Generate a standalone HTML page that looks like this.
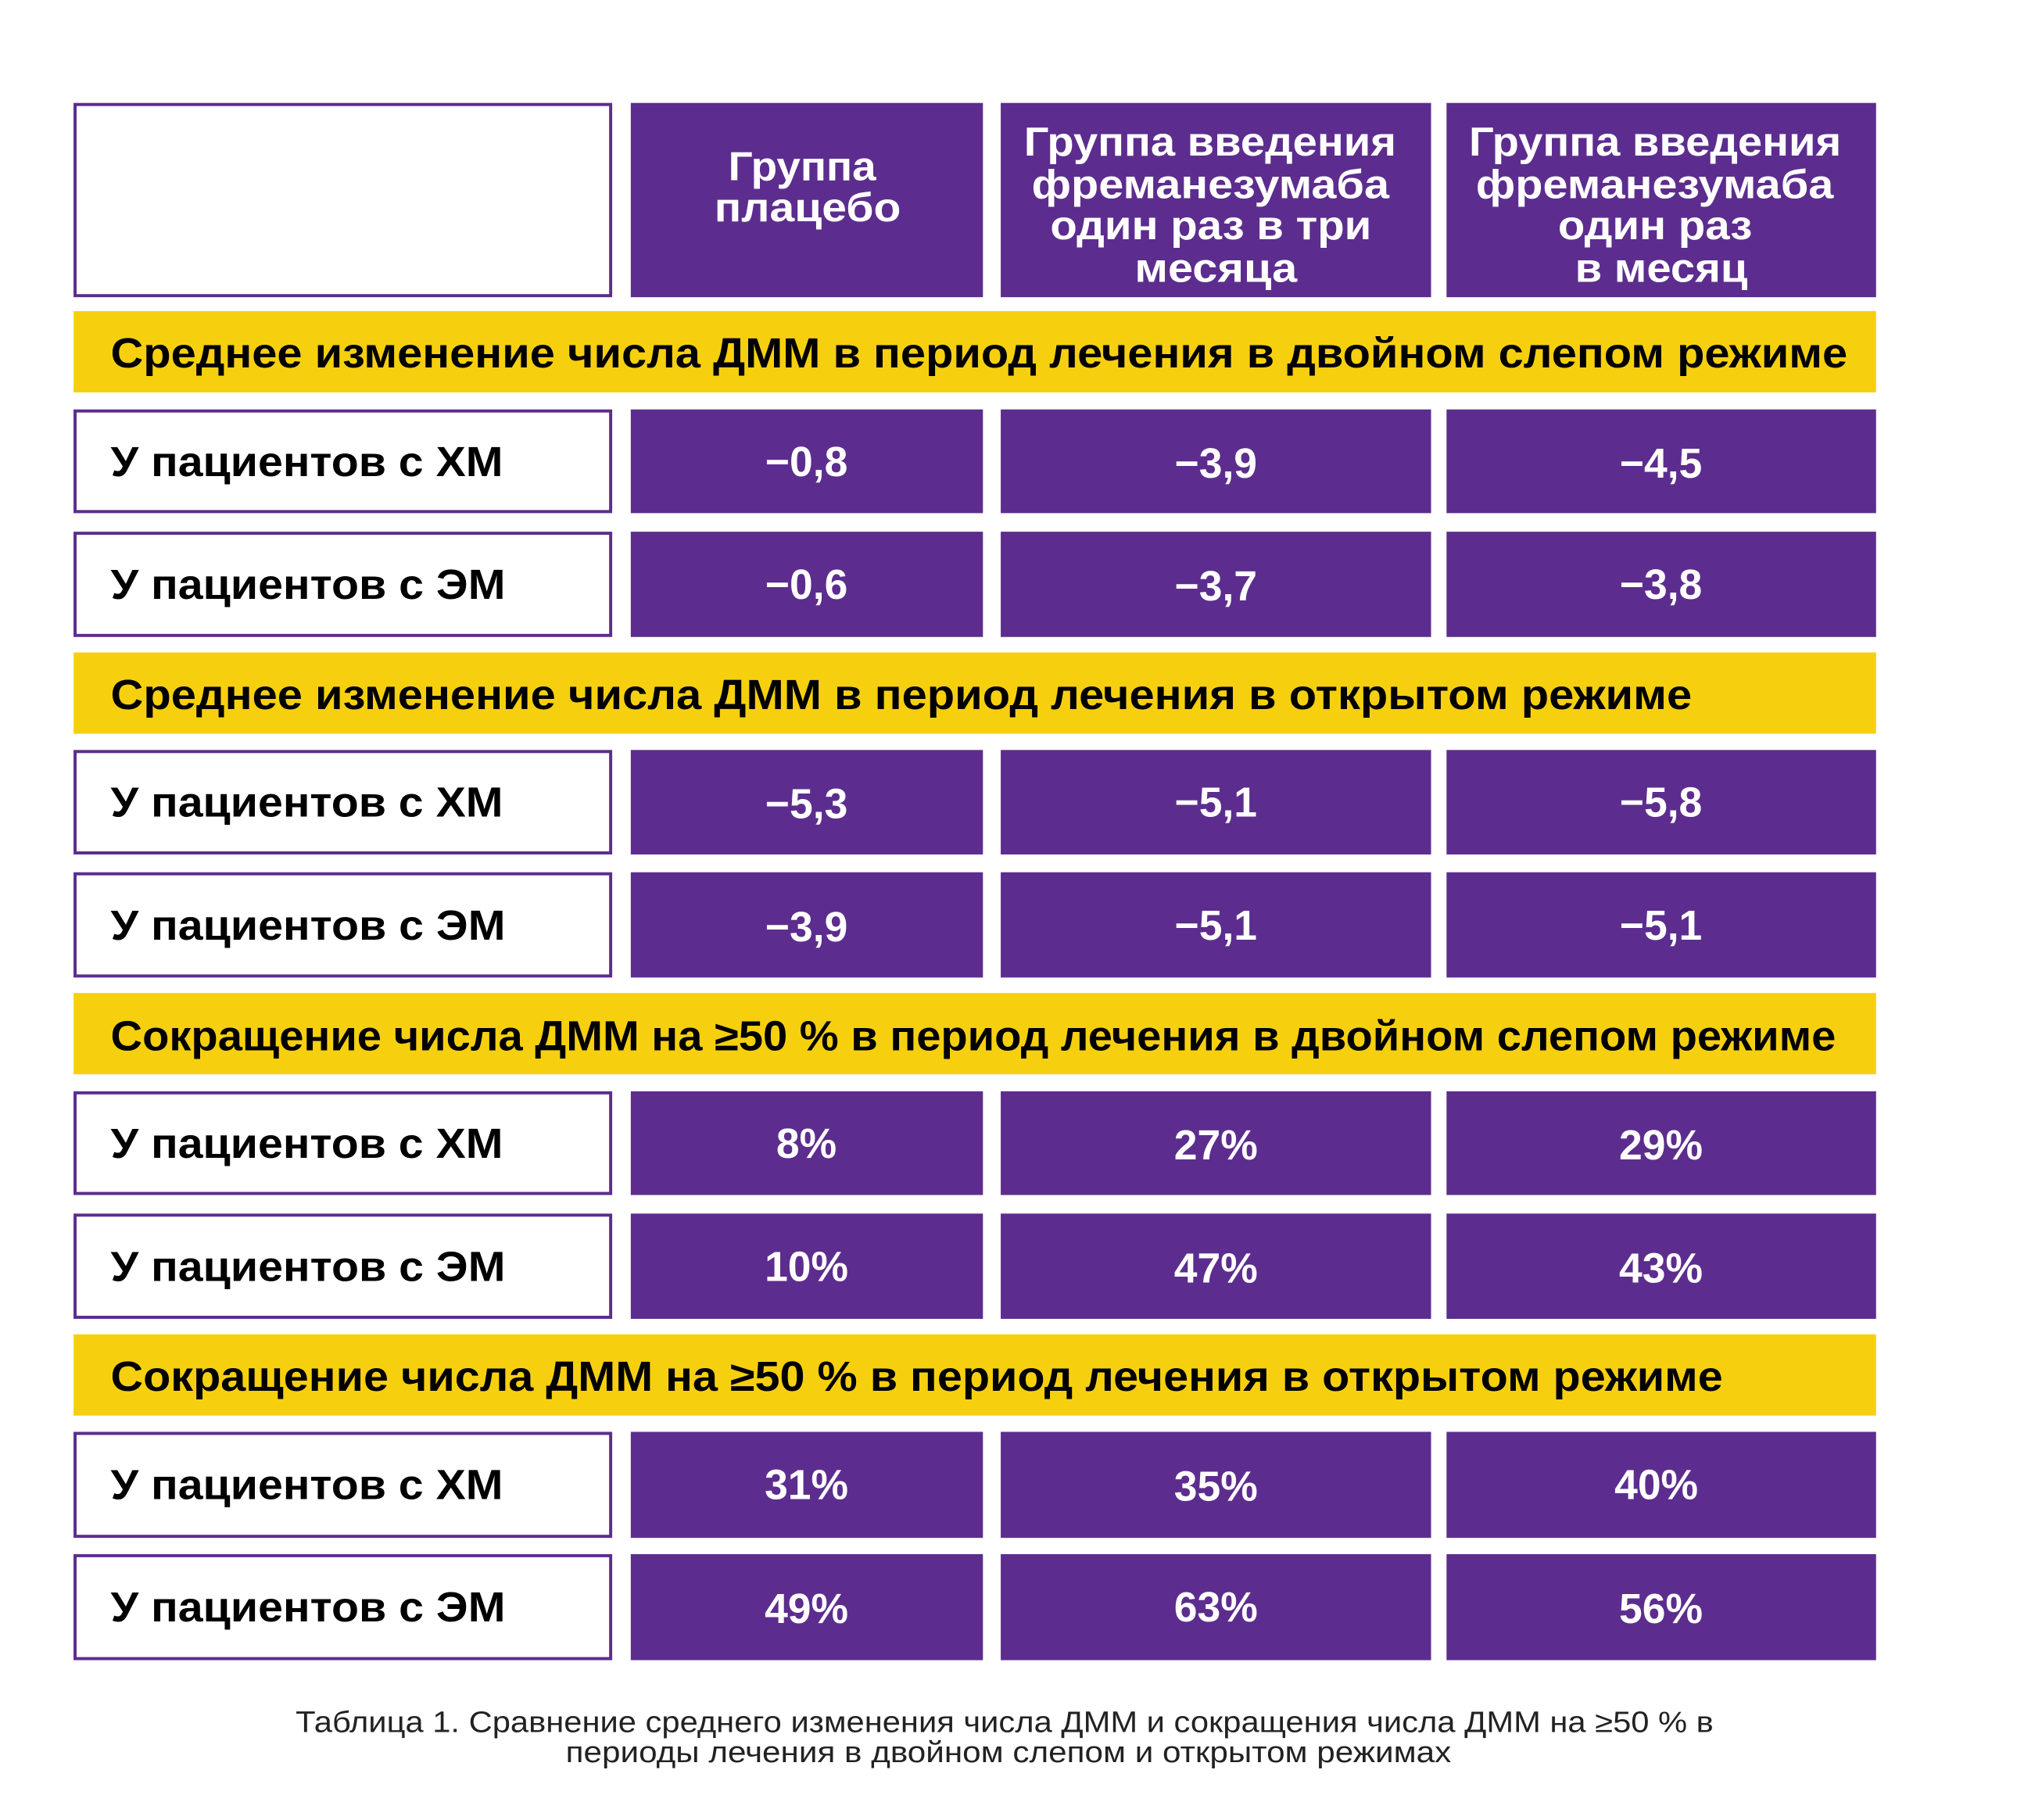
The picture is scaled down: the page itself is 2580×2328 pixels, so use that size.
<!DOCTYPE html>
<html><head><meta charset="utf-8"><style>
html,body{margin:0;padding:0;background:#fff;}
svg{display:block;}
text{font-family:"Liberation Sans",sans-serif;}
.b{font-weight:bold;}
.w{fill:#fff;}
</style></head><body>
<svg width="2580" height="2328" viewBox="0 0 2580 2328" xmlns="http://www.w3.org/2000/svg">
<rect width="2580" height="2328" fill="#fff"/>
<g transform="scale(0.99)">
<g fill="#5c2d8e">
<rect x="815" y="133" width="455" height="251"/>
<rect x="1293" y="133" width="556" height="251"/>
<rect x="1869" y="133" width="555" height="251"/>
</g>
<rect x="97" y="135" width="692" height="247" fill="none" stroke="#5c2d8e" stroke-width="4"/>
<g class="b w" font-size="52">
<text x="941" y="233" textLength="191" lengthAdjust="spacingAndGlyphs">Группа</text>
<text x="923" y="286" textLength="241" lengthAdjust="spacingAndGlyphs">плацебо</text>
<text x="1323" y="201" textLength="481" lengthAdjust="spacingAndGlyphs">Группа введения</text>
<text x="1333" y="256" textLength="462" lengthAdjust="spacingAndGlyphs">фреманезумаба</text>
<text x="1357" y="309" textLength="415" lengthAdjust="spacingAndGlyphs">один раз в три</text>
<text x="1466" y="364" textLength="210" lengthAdjust="spacingAndGlyphs">месяца</text>
<text x="1898" y="201" textLength="481" lengthAdjust="spacingAndGlyphs">Группа введения</text>
<text x="1907" y="256" textLength="462" lengthAdjust="spacingAndGlyphs">фреманезумаба</text>
<text x="2013" y="309" textLength="251" lengthAdjust="spacingAndGlyphs">один раз</text>
<text x="2035" y="364" textLength="223" lengthAdjust="spacingAndGlyphs">в месяц</text>
</g>
<g fill="#f6d00f">
<rect x="95" y="402" width="2329" height="105"/>
<rect x="95" y="843" width="2329" height="105"/>
<rect x="95" y="1283" width="2329" height="105"/>
<rect x="95" y="1724" width="2329" height="105"/>
</g>
<g class="b" font-size="54" fill="#000">
<text x="143" y="475" textLength="2244" lengthAdjust="spacingAndGlyphs">Среднее изменение числа ДММ в период лечения в двойном слепом режиме</text>
<text x="143" y="916" textLength="2043" lengthAdjust="spacingAndGlyphs">Среднее изменение числа ДММ в период лечения в открытом режиме</text>
<text x="143" y="1357" textLength="2229" lengthAdjust="spacingAndGlyphs">Сокращение числа ДММ на ≥50 % в период лечения в двойном слепом режиме</text>
<text x="143" y="1797" textLength="2083" lengthAdjust="spacingAndGlyphs">Сокращение числа ДММ на ≥50 % в период лечения в открытом режиме</text>
</g>
<g fill="#5c2d8e">
<rect x="815" y="529" width="455" height="134"/><rect x="1293" y="529" width="556" height="134"/><rect x="1869" y="529" width="555" height="134"/>
<rect x="815" y="687" width="455" height="136"/><rect x="1293" y="687" width="556" height="136"/><rect x="1869" y="687" width="555" height="136"/>
<rect x="815" y="969" width="455" height="135"/><rect x="1293" y="969" width="556" height="135"/><rect x="1869" y="969" width="555" height="135"/>
<rect x="815" y="1127" width="455" height="136"/><rect x="1293" y="1127" width="556" height="136"/><rect x="1869" y="1127" width="555" height="136"/>
<rect x="815" y="1410" width="455" height="134"/><rect x="1293" y="1410" width="556" height="134"/><rect x="1869" y="1410" width="555" height="134"/>
<rect x="815" y="1568" width="455" height="136"/><rect x="1293" y="1568" width="556" height="136"/><rect x="1869" y="1568" width="555" height="136"/>
<rect x="815" y="1850" width="455" height="137"/><rect x="1293" y="1850" width="556" height="137"/><rect x="1869" y="1850" width="555" height="137"/>
<rect x="815" y="2008" width="455" height="137"/><rect x="1293" y="2008" width="556" height="137"/><rect x="1869" y="2008" width="555" height="137"/>
</g>
<g fill="none" stroke="#5c2d8e" stroke-width="4">
<rect x="97" y="531" width="692" height="130"/>
<rect x="97" y="689" width="692" height="132"/>
<rect x="97" y="971" width="692" height="131"/>
<rect x="97" y="1129" width="692" height="132"/>
<rect x="97" y="1412" width="692" height="130"/>
<rect x="97" y="1570" width="692" height="132"/>
<rect x="97" y="1852" width="692" height="133"/>
<rect x="97" y="2010" width="692" height="133"/>
</g>
<g class="b" font-size="54" fill="#000">
<text x="143" y="615" textLength="507" lengthAdjust="spacingAndGlyphs">У пациентов с ХМ</text>
<text x="143" y="774" textLength="510" lengthAdjust="spacingAndGlyphs">У пациентов с ЭМ</text>
<text x="143" y="1055" textLength="507" lengthAdjust="spacingAndGlyphs">У пациентов с ХМ</text>
<text x="143" y="1214" textLength="510" lengthAdjust="spacingAndGlyphs">У пациентов с ЭМ</text>
<text x="143" y="1496" textLength="507" lengthAdjust="spacingAndGlyphs">У пациентов с ХМ</text>
<text x="143" y="1655" textLength="510" lengthAdjust="spacingAndGlyphs">У пациентов с ЭМ</text>
<text x="143" y="1937" textLength="507" lengthAdjust="spacingAndGlyphs">У пациентов с ХМ</text>
<text x="143" y="2095" textLength="510" lengthAdjust="spacingAndGlyphs">У пациентов с ЭМ</text>
</g>
<g class="b w" font-size="54" text-anchor="middle">
<text x="1042" y="615">−0,8</text><text x="1571" y="617">−3,9</text><text x="2146" y="617">−4,5</text>
<text x="1042" y="774">−0,6</text><text x="1571" y="776">−3,7</text><text x="2146" y="774">−3,8</text>
<text x="1042" y="1057">−5,3</text><text x="1571" y="1055">−5,1</text><text x="2146" y="1055">−5,8</text>
<text x="1042" y="1216">−3,9</text><text x="1571" y="1214">−5,1</text><text x="2146" y="1214">−5,1</text>
<text x="1042" y="1496">8%</text><text x="1571" y="1498">27%</text><text x="2146" y="1498">29%</text>
<text x="1042" y="1655">10%</text><text x="1571" y="1657">47%</text><text x="2146" y="1657">43%</text>
<text x="1042" y="1937">31%</text><text x="1571" y="1939">35%</text><text x="2140" y="1937">40%</text>
<text x="1042" y="2097">49%</text><text x="1571" y="2095">63%</text><text x="2146" y="2097">56%</text>
</g>
<g font-size="38" fill="#222">
<text x="382" y="2238" textLength="1832" lengthAdjust="spacingAndGlyphs">Таблица 1. Сравнение среднего изменения числа ДММ и сокращения числа ДММ на ≥50 % в</text>
<text x="731" y="2277" textLength="1144" lengthAdjust="spacingAndGlyphs">периоды лечения в двойном слепом и открытом режимах</text>
</g>
</g>
</svg>
</body></html>
